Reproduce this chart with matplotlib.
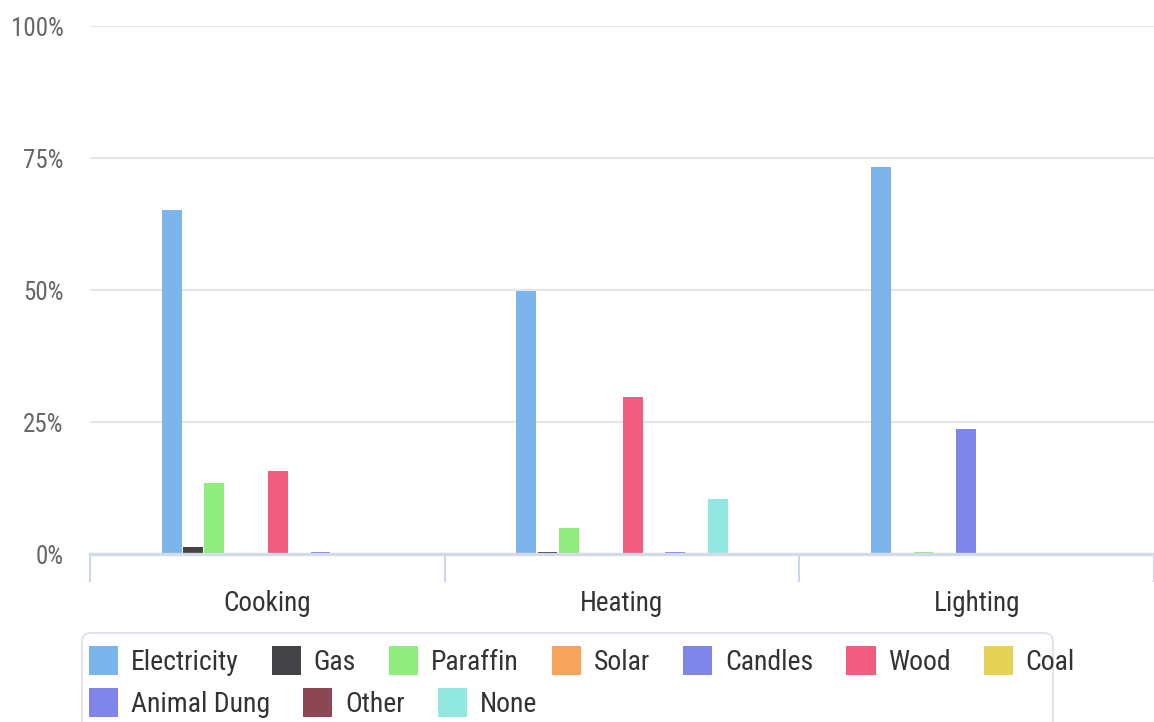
import matplotlib
matplotlib.use("Agg")
import matplotlib.pyplot as plt
import numpy as np
from matplotlib.patches import FancyBboxPatch

plt.rcParams['font.family'] = ['Roboto Condensed', 'DejaVu Sans']

categories = ["Cooking", "Heating", "Lighting"]
series_names = ["Electricity", "Gas", "Paraffin", "Solar", "Candles", "Wood",
                "Coal", "Animal Dung", "Other", "None"]

electricity = [65.2, 49.8, 73.3]
gas = [1.3, 0.4, 0.0]
paraffin = [13.4, 4.9, 0.4]
solar = [0.0, 0.0, 0.0]
candles = [0.0, 0.0, 23.7]
wood = [15.7, 29.7, 0.0]
coal = [0.0, 0.0, 0.0]
animal_dung = [0.4, 0.4, 0.0]
other = [0.0, 0.0, 0.0]
none = [0.0, 10.4, 0.0]

series_values = [electricity, gas, paraffin, solar, candles, wood,
                 coal, animal_dung, other, none]
colors = ["#7cb5ec", "#434348", "#90ed7d", "#f7a35c", "#8085e9", "#f15c80",
          "#e4d354", "#8085e9", "#8d4653", "#91e8e1"]

W, H = 1154, 722
fig = plt.figure(figsize=(W / 100, H / 100), dpi=100)
ax = fig.add_axes([90 / W, 1 - 554 / H, 1 - 90 / W, (554 - 26) / H])

x = np.arange(len(categories))
slot = 0.06
n = len(series_names)
for i, (name, vals, c) in enumerate(zip(series_names, series_values, colors)):
    ax.bar(x + (i - (n - 1) / 2) * slot, vals, width=0.056, color=c,
           label=name, zorder=3)

ax.set_xlim(-0.5, 2.5)
ax.set_ylim(0, 100)

# y axis: percent labels with light grid lines
ax.set_yticks([0, 25, 50, 75, 100])
ax.set_yticklabels(["0%", "25%", "50%", "75%", "100%"])
ax.tick_params(axis='y', length=0, pad=19, labelsize=18, labelcolor="#666666")
ax.yaxis.grid(True, color="#e6e6e6", linewidth=1.6, zorder=0)
ax.set_axisbelow(True)

# x axis: category labels, tick marks between categories
ax.set_xticks(x)
ax.set_xticklabels(categories)
ax.set_xticks([-0.5, 0.5, 1.5, 2.5], minor=True)
ax.tick_params(axis='x', which='major', length=0, pad=26, labelsize=19.5,
               labelcolor="#333333")
ax.tick_params(axis='x', which='minor', length=20, width=1.5,
               color="#ccd6eb")

for side in ["left", "right", "top"]:
    ax.spines[side].set_visible(False)
ax.spines["bottom"].set_color("#d3dbe7")
ax.spines["bottom"].set_linewidth(2.4)
ax.spines["bottom"].set_zorder(4)

# legend: framed box with two flowing rows
box = FancyBboxPatch((0.82, -0.2), 10.53 - 0.82, (H - 633) / 100 + 0.2,
                     boxstyle="round,pad=0,rounding_size=0.09",
                     transform=fig.dpi_scale_trans, facecolor="white",
                     edgecolor="#dedde8", linewidth=1.2)
fig.patches.append(box)

handles, labels = ax.get_legend_handles_labels()
rows = [(0, 7, 661), (7, 10, 703)]
for start, stop, yc in rows:
    leg = fig.legend(handles[start:stop], labels[start:stop],
                     loc="center left", bbox_to_anchor=(89 / W, 1 - yc / H),
                     bbox_transform=fig.transFigure, ncol=stop - start,
                     frameon=False, borderpad=0, borderaxespad=0,
                     fontsize=20, handlelength=1.05, handleheight=1.25,
                     handletextpad=0.45, columnspacing=1.2)
    for t in leg.get_texts():
        t.set_color("#333333")

fig.savefig("out.png", dpi=100)
